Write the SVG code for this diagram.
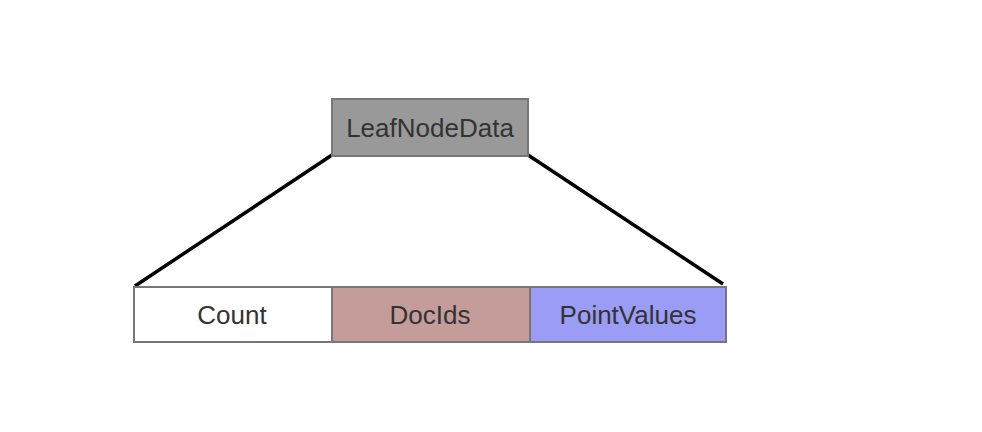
<svg xmlns="http://www.w3.org/2000/svg" width="982" height="432" viewBox="0 0 982 432">
<style>
.box{stroke:#777777;stroke-width:2}
.lbl{font-family:"Liberation Sans",Arial,sans-serif;font-size:26px;fill:#333333;text-anchor:middle;dominant-baseline:central}
.conn{stroke:#000000;stroke-width:3.5;fill:none}
</style>
<rect width="982" height="432" fill="#ffffff"/>
<g id="connectors">
<line class="conn" x1="332" y1="155" x2="135" y2="286"/>
<line class="conn" x1="528" y1="155" x2="723" y2="284"/>
</g>
<g id="leafnodedata">
<rect class="box" x="332" y="99" width="196" height="57" fill="#999999"/>
<text class="lbl" x="430" y="128">LeafNodeData</text>
</g>
<g id="count">
<rect class="box" x="134" y="287" width="198" height="55" fill="#ffffff"/>
<text class="lbl" x="232" y="315">Count</text>
</g>
<g id="docids">
<rect class="box" x="332" y="287" width="198" height="55" fill="#c49c99"/>
<text class="lbl" x="430" y="315">DocIds</text>
</g>
<g id="pointvalues">
<rect class="box" x="530" y="287" width="196" height="55" fill="#9a9cf6"/>
<text class="lbl" x="628" y="315">PointValues</text>
</g>
</svg>
